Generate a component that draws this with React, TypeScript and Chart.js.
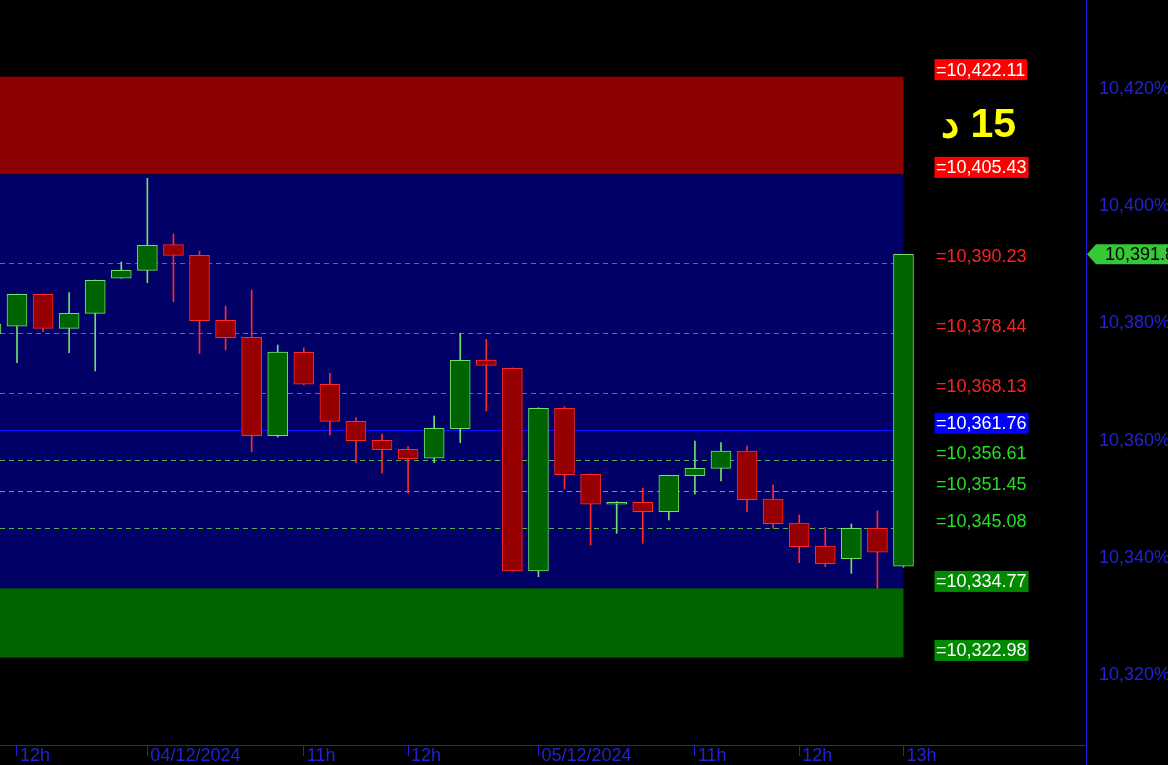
import React, { useEffect, useRef } from 'react';
import { Chart, registerables } from 'chart.js';

Chart.register(...registerables);

// ---- Data ----
const firstSlot = -1; // candle slot of the first array entry
const candleOpen = [
  10378.2, 10379.51, 10384.97, 10379.16, 10381.72, 10387.7, 10389.06, 10393.43, 10391.62, 10380.53,
  10377.63, 10360.84, 10375.07, 10369.61, 10363.29, 10360.05, 10358.5, 10356.98, 10362.03, 10373.75,
  10372.34, 10337.75, 10365.51, 10354.25, 10349.13, 10349.47, 10347.87, 10354.01, 10355.27, 10358.23,
  10350.03, 10345.94, 10342.0, 10339.85, 10345.03, 10338.55,
];
const candleHigh = [
  10380.5, 10385.0, 10385.0, 10385.24, 10387.4, 10390.48, 10404.76, 10395.26, 10392.35, 10382.97,
  10385.7, 10376.31, 10375.85, 10371.48, 10363.91, 10361.13, 10358.96, 10364.2, 10378.31, 10377.29,
  10372.4, 10365.6, 10365.78, 10354.3, 10349.6, 10351.86, 10354.1, 10359.93, 10359.64, 10359.08,
  10352.47, 10347.3, 10345.2, 10345.77, 10347.99, 10391.8,
];
const candleLow = [
  10377.5, 10373.29, 10378.58, 10375.0, 10371.88, 10387.7, 10386.95, 10383.7, 10374.9, 10375.46,
  10358.11, 10360.6, 10369.5, 10360.96, 10356.23, 10354.42, 10351.01, 10356.23, 10359.64, 10365.05,
  10337.7, 10336.77, 10351.74, 10342.18, 10344.18, 10342.47, 10346.45, 10350.84, 10353.11, 10347.87,
  10345.03, 10339.16, 10338.48, 10337.35, 10334.79, 10338.4,
];
const candleClose = [
  10379.9, 10384.97, 10379.16, 10381.72, 10387.35, 10389.06, 10393.33, 10391.62, 10380.46, 10377.56,
  10360.84, 10375.12, 10369.61, 10363.29, 10359.98, 10358.45, 10356.91, 10362.1, 10373.7, 10372.82,
  10337.75, 10365.51, 10354.18, 10349.13, 10349.47, 10347.87, 10354.08, 10355.27, 10358.23, 10349.91,
  10345.82, 10341.89, 10338.99, 10345.03, 10340.94, 10391.8,
];

const tickSlots = [0, 5, 11, 15, 20, 26, 30, 34];
const tickLabels = ['12h', '04/12/2024', '11h', '12h', '05/12/2024', '11h', '12h', '13h'];
const yTickValues = [10320, 10340, 10360, 10380, 10400, 10420];

const zoneRed = [10405.43, 10422.11];
const zoneBlue = [10334.77, 10405.43];
const zoneGreen = [10322.98, 10334.77];
const resistanceLevels = [10390.23, 10378.44, 10368.13];
const pivotLevel = 10361.76;
const supportLevels = [10356.61, 10351.45, 10345.08];
const timeframeLabel = '15 د';

// ---- Styling ----
const FONT = '"Liberation Sans", Arial, sans-serif';
const AXIS_BLUE = '#1e1ee6';
const TEXT_BLUE = '#2222d4';
const UP_FILL = '#006400';
const UP_EDGE = '#6ee06e';
const DOWN_FILL = '#960000';
const DOWN_EDGE = '#ff2a2a';

const Y_MIN = 10308.05;
const Y_MAX = 10435.19;
const X_MIN = -0.652;
const X_MAX = 41.0;

const fmt = (v: number, d: number) => {
  const [i, f] = v.toFixed(d).split('.');
  return i.replace(/\B(?=(\d{3})+(?!\d))/g, ',') + (f ? '.' + f : '');
};

const slots = candleOpen.map((_, i) => firstSlot + i);
const lastSlot = slots[slots.length - 1];
const isUp = candleOpen.map((o, i) => candleClose[i] >= o);

type LabelKind = 'redBox' | 'redText' | 'blueBox' | 'greenText' | 'greenBox';
const labelValues = [zoneRed[1], zoneRed[0], ...resistanceLevels, pivotLevel, ...supportLevels, zoneGreen[1], zoneGreen[0]];
const labelKinds: LabelKind[] = ['redBox', 'redBox', 'redText', 'redText', 'redText', 'blueBox', 'greenText', 'greenText', 'greenText', 'greenBox', 'greenBox'];

const overlayPlugin = {
  id: 'overlay',
  beforeDraw(chart: any) {
    const { ctx, width, height } = chart;
    ctx.save();
    ctx.fillStyle = '#000000';
    ctx.fillRect(0, 0, width, height);
    ctx.restore();
  },
  beforeDatasetsDraw(chart: any) {
    const { ctx, chartArea, scales } = chart;
    const x = scales.x;
    const y = scales.y;
    const xl = chartArea.left;
    const xr = x.getPixelForValue(lastSlot);
    ctx.save();
    const zone = (z: number[], color: string) => {
      const top = y.getPixelForValue(z[1]);
      const bot = y.getPixelForValue(z[0]);
      ctx.fillStyle = color;
      ctx.fillRect(xl, top, xr - xl, bot - top);
    };
    zone(zoneRed, '#8c0000');
    zone(zoneBlue, '#000066');
    zone(zoneGreen, '#006400');

    const hline = (v: number, color: string, dash: number[]) => {
      const py = Math.round(y.getPixelForValue(v)) + 0.5;
      ctx.strokeStyle = color;
      ctx.lineWidth = 1;
      ctx.setLineDash(dash);
      ctx.beginPath();
      ctx.moveTo(xl, py);
      ctx.lineTo(xr, py);
      ctx.stroke();
    };
    resistanceLevels.forEach((v) => hline(v, '#f03232', [5, 4]));
    supportLevels.forEach((v) => hline(v, '#52b452', [5, 4]));
    hline(pivotLevel, '#1010ff', []);
    ctx.restore();
  },
  afterDraw(chart: any) {
    const { ctx, chartArea, scales, width, height } = chart;
    const y = scales.y;
    ctx.save();
    // extend right axis line to the bottom
    ctx.strokeStyle = AXIS_BLUE;
    ctx.lineWidth = 1;
    ctx.beginPath();
    ctx.moveTo(chartArea.right + 0.5, chartArea.bottom);
    ctx.lineTo(chartArea.right + 0.5, height);
    ctx.stroke();

    // level labels
    ctx.font = `18px ${FONT}`;
    ctx.textBaseline = 'middle';
    ctx.textAlign = 'left';
    labelValues.forEach((v, i) => {
      const kind = labelKinds[i];
      const cy = y.getPixelForValue(v) - 7;
      const text = '=' + fmt(v, 2);
      const tx = 936;
      const w = ctx.measureText(text).width;
      let color = '#ffffff';
      if (kind === 'redBox' || kind === 'blueBox' || kind === 'greenBox') {
        ctx.fillStyle = kind === 'redBox' ? '#ff0000' : kind === 'blueBox' ? '#0000ff' : '#008a00';
        ctx.fillRect(tx - 1.5, cy - 10.5, w + 3.5, 21);
      } else if (kind === 'redText') {
        color = '#ff2020';
      } else {
        color = '#22e022';
      }
      ctx.fillStyle = color;
      ctx.fillText(text, tx, cy + 1);
    });

    // timeframe label
    ctx.font = `bold 41px ${FONT}`;
    ctx.fillStyle = '#ffff00';
    ctx.textBaseline = 'alphabetic';
    (ctx as any).direction = 'rtl';
    ctx.textAlign = 'right';
    ctx.fillText(timeframeLabel, 1016, 137);
    (ctx as any).direction = 'ltr';

    // last price tag
    const last = candleClose[candleClose.length - 1];
    const py = y.getPixelForValue(last);
    const tipX = chartArea.right + 1;
    ctx.fillStyle = '#36c836';
    ctx.beginPath();
    ctx.moveTo(tipX, py);
    ctx.lineTo(tipX + 9, py - 10);
    ctx.lineTo(width, py - 10);
    ctx.lineTo(width, py + 10);
    ctx.lineTo(tipX + 9, py + 10);
    ctx.closePath();
    ctx.fill();
    ctx.fillStyle = '#000000';
    ctx.font = `18px ${FONT}`;
    ctx.textAlign = 'left';
    ctx.textBaseline = 'middle';
    ctx.fillText(fmt(last, 2), 1105, py + 1);
    ctx.restore();
  },
};

export default function App() {
  const canvasRef = useRef<HTMLCanvasElement | null>(null);

  useEffect(() => {
    if (!canvasRef.current) return;
    const wickData = slots.map((s, i) => ({ x: s, y: [candleLow[i], candleHigh[i]] }));
    const bodyData = slots.map((s, i) => ({ x: s, y: [candleOpen[i], candleClose[i]] }));
    const chart = new Chart(canvasRef.current, {
      type: 'bar',
      data: {
        datasets: [
          {
            label: 'wick',
            data: wickData as any,
            barThickness: 1,
            backgroundColor: isUp.map((u) => (u ? UP_EDGE : DOWN_EDGE)),
            borderWidth: 0,
            grouped: false,
            order: 2,
          } as any,
          {
            label: 'body',
            data: bodyData as any,
            barThickness: 20,
            backgroundColor: isUp.map((u) => (u ? UP_FILL : DOWN_FILL)),
            borderColor: isUp.map((u) => (u ? UP_EDGE : DOWN_EDGE)),
            borderWidth: 1,
            borderSkipped: false,
            grouped: false,
            order: 1,
          } as any,
        ],
      },
      options: {
        animation: false,
        responsive: false,
        maintainAspectRatio: false,
        layout: { padding: 0 },
        plugins: { legend: { display: false }, tooltip: { enabled: false }, title: { display: false } },
        events: [],
        scales: {
          x: {
            type: 'linear',
            min: X_MIN,
            max: X_MAX,
            offset: false,
            position: 'bottom',
            afterBuildTicks: (scale: any) => {
              scale.ticks = tickSlots.map((v) => ({ value: v }));
            },
            afterFit: (scale: any) => {
              scale.height = 20;
              scale.paddingLeft = 0;
              scale.paddingRight = 0;
            },
            grid: {
              display: true,
              drawOnChartArea: false,
              drawTicks: true,
              tickLength: 11,
              color: AXIS_BLUE,
              offset: false,
            },
            border: { display: true, color: AXIS_BLUE, width: 1 },
            ticks: {
              autoSkip: false,
              maxRotation: 0,
              minRotation: 0,
              align: 'start',
              labelOffset: 3,
              padding: -11,
              color: TEXT_BLUE,
              font: { family: FONT, size: 18 },
              callback: (v: any) => {
                const k = tickSlots.indexOf(Number(v));
                return k >= 0 ? tickLabels[k] : '';
              },
            },
          },
          y: {
            type: 'linear',
            position: 'right',
            min: Y_MIN,
            max: Y_MAX,
            afterBuildTicks: (scale: any) => {
              scale.ticks = yTickValues.map((v) => ({ value: v }));
            },
            afterFit: (scale: any) => {
              scale.width = 82;
              scale.paddingTop = 0;
              scale.paddingBottom = 0;
            },
            grid: { display: false },
            border: { display: true, color: AXIS_BLUE, width: 1 },
            ticks: {
              autoSkip: false,
              padding: 5,
              color: TEXT_BLUE,
              font: { family: FONT, size: 18 },
              callback: (v: any) => fmt(Number(v), 0) + '%',
            },
          },
        },
      } as any,
      plugins: [overlayPlugin],
    });
    return () => chart.destroy();
  }, []);

  return (
    <div style={{ position: 'fixed', left: 0, top: 0, width: 1168, height: 765, background: '#000' }}>
      <canvas ref={canvasRef} width={1168} height={765} style={{ display: 'block' }} />
    </div>
  );
}
